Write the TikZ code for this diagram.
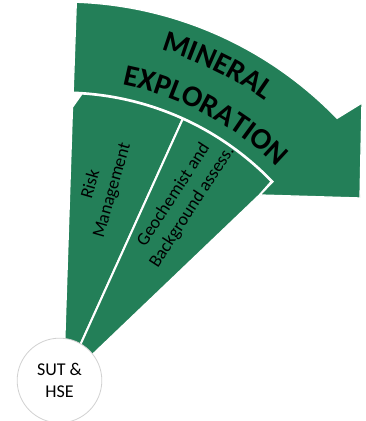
\documentclass[tikz,border=0pt]{standalone}
\usepackage{fontspec}
\setmainfont{Carlito}
\usetikzlibrary{calc,decorations.text}
\definecolor{minegreen}{RGB}{35,127,88}
\newcommand\titlefont{\bfseries\fontsize{22.5}{27}\selectfont}
\tikzset{
  wedge/.style={fill=minegreen,draw=white,line width=1.5pt,line join=round},
  bigarrow/.style={fill=minegreen,draw=white,line width=1pt,line join=miter},
  lbl/.style={align=center,inner sep=0pt,font=\fontsize{13.5}{16.5}\selectfont},
  hub/.style={circle,fill=white,draw=black!18,line width=0.6pt,minimum size=63.5pt,
    align=center,inner sep=0pt,font=\fontsize{13.5}{16.5}\selectfont},
}

\begin{document}
\begin{tikzpicture}[x=0.75pt,y=0.75pt]
\useasboundingbox (0,0) rectangle (366,421);
\coordinate (o) at (63,38);
\fill[wedge] (o) -- ($(o)+(88.1:276)$) -- ($(o)+(86.3:290)$)
  arc[start angle=86.3,end angle=65.6,radius=290] -- cycle;
\fill[wedge] (o) -- ($(o)+(65.6:290)$)
  arc[start angle=65.6,end angle=44,radius=290] -- ($(o)+(43.7:272)$) -- cycle;
\draw[bigarrow] ($(o)+(88:381)$) arc[start angle=88,end angle=44,radius=381]
  -- (362,318) -- (360,223) -- (260,226) -- ($(o)+(43.8:291)$)
  arc[start angle=43.8,end angle=88,radius=291] -- cycle;
\path[decorate,decoration={text along path,text align=center,
  text={|\titlefont|MINERAL}}]
  ($(o)+(94:347)$) arc[start angle=94,end angle=34,radius=347];
\path[decorate,decoration={text along path,text align=center,
  text={|\titlefont|EXPLORATION}}]
  ($(o)+(92:304)$) arc[start angle=92,end angle=32,radius=304];
\node[lbl,rotate=74] (risk) at (101.7,233.5) {Risk\\Management};
\node[lbl,rotate=57] (geo) at (183,220) {Geochemist and\\Background assess.};
\node[hub] (sut) at (59.5,40.5) {SUT \&\\HSE};
\end{tikzpicture}
\end{document}
